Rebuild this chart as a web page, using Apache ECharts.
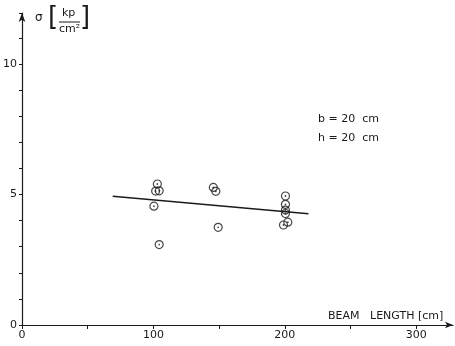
<!DOCTYPE html>
<html><head><meta charset="utf-8">
<script src="https://cdn.jsdelivr.net/npm/echarts@6/dist/echarts.min.js"></script>
<style>html,body{margin:0;padding:0;background:#fff}#c{width:455px;height:346px}</style>
</head><body><div id="c"></div>
<script>
// Data
const beamLength = [103, 101.7, 104.4, 100.4, 104.4, 145.6, 147.5, 149.3, 200.5, 200.5, 200.5, 200.5, 199, 202.3];
const stress     = [5.40, 5.13, 5.14, 4.55, 3.08, 5.27, 5.12, 3.74, 4.94, 4.62, 4.40, 4.27, 3.83, 3.94];
const fitX = [69, 218];
const fitY = [4.93, 4.26];
const xTicks = [0, 100, 200, 300];
const yTicks = [0, 5, 10];
const noteLines = ['b = 20  cm', 'h = 20  cm'];

const pts = beamLength.map((x, i) => [x, stress[i]]);
const fit = fitX.map((x, i) => [x, fitY[i]]);
const font = 'DejaVu Sans';
const ink = '#1a1a1a';

const chart = echarts.init(document.getElementById('c'));
chart.setOption({
  animation: false,
  backgroundColor: '#fff',
  grid: { left: 22, right: 2, top: 13, bottom: 21 },
  xAxis: {
    type: 'value', min: 0, max: 328, interval: 50,
    axisLine: { show: true, lineStyle: { color: ink, width: 1.2 }, symbol: ['none', 'arrow'], symbolSize: [5, 8] },
    axisTick: { show: true, length: 4, lineStyle: { color: ink } },
    axisLabel: { color: ink, fontFamily: font, fontSize: 11, margin: 5,
      formatter: v => xTicks.includes(v) ? String(v) : '' , showMaxLabel: false },
    splitLine: { show: false }
  },
  yAxis: {
    type: 'value', min: 0, max: 11.95, interval: 1,
    axisLine: { show: true, lineStyle: { color: ink, width: 1.2 }, symbol: ['none', 'arrow'], symbolSize: [5, 9] },
    axisTick: { show: true, length: 3, lineStyle: { color: ink } },
    axisLabel: { color: ink, fontFamily: font, fontSize: 11, margin: 5,
      formatter: v => yTicks.includes(v) ? String(v) : '' },
    splitLine: { show: false }
  },
  series: [
    { type: 'line', data: fit, symbol: 'none', lineStyle: { color: ink, width: 1.4 }, z: 2 },
    { type: 'scatter', data: pts, symbol: 'circle', symbolSize: 8,
      itemStyle: { color: 'transparent', borderColor: ink, borderWidth: 1.2 }, z: 3 },
    { type: 'scatter', data: pts, symbol: 'circle', symbolSize: 1.8,
      itemStyle: { color: ink }, z: 4 }
  ],
  graphic: [
    { type: 'text', left: 318, top: 114, style: { text: noteLines[0], font: '11px ' + font, fill: ink } },
    { type: 'text', left: 318, top: 133, style: { text: noteLines[1], font: '11px ' + font, fill: ink } },
    { type: 'text', left: 328, top: 311, style: { text: 'BEAM   LENGTH [cm]', font: '11px ' + font, fill: ink } },
    { type: 'text', left: 35, top: 12, style: { text: 'σ', font: '12px ' + font, fill: ink } },
    { type: 'text', left: 48, top: 5, style: { text: '[', font: '26px ' + font, fill: ink } },
    { type: 'text', left: 62, top: 8, style: { text: 'kp', font: '11px ' + font, fill: ink } },
    { type: 'line', shape: { x1: 59, y1: 22, x2: 80, y2: 22 }, style: { stroke: ink, lineWidth: 1 } },
    { type: 'text', left: 59, top: 24, style: { text: 'cm²', font: '11px ' + font, fill: ink } },
    { type: 'text', left: 80, top: 5, style: { text: ']', font: '26px ' + font, fill: ink } }
  ]
});
</script></body></html>
